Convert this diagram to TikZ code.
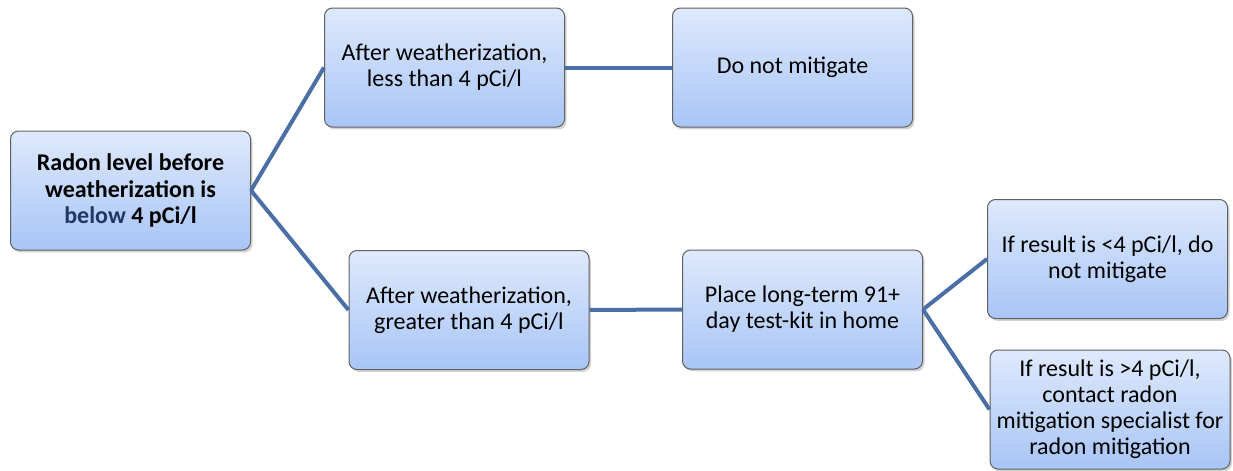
\documentclass[tikz,border=0pt]{standalone}
\usepackage{fontspec}
\setmainfont{Carlito}
\usetikzlibrary{shadows}
\definecolor{boxtop}{RGB}{222,233,252}
\definecolor{boxbot}{RGB}{168,197,246}
\definecolor{linkblue}{RGB}{74,111,165}
\definecolor{navy}{RGB}{31,56,100}

\begin{document}
\begin{tikzpicture}[x=0.5pt,y=-0.5pt,
  box/.style={rectangle, rounded corners=4pt, draw=gray!75!black, line width=0.5pt,
    top color=boxtop, bottom color=boxbot, align=center,
    minimum width=120pt, minimum height=59.5pt, inner sep=2pt,
    font=\fontsize{12pt}{13pt}\selectfont,
    drop shadow={shadow xshift=1pt, shadow yshift=-1.2pt, opacity=0.35, fill=gray}},
  link/.style={draw=linkblue, line width=2pt}]

\useasboundingbox (0,0) rectangle (1233,471);

% Boxes
  \node[box, font=\fontsize{12pt}{13.4pt}\selectfont\bfseries] (root) at (130.5,190.5) {Radon level before\\ weatherization is\\ \textcolor{navy}{below} 4 pCi/l};
  \node[box] (less) at (444.5,67.5) {After weatherization,\\ less than 4 pCi/l};
  \node[box] (nomit) at (792.5,67.5) {Do not mitigate};
  \node[box] (greater) at (469,310) {After weatherization,\\ greater than 4 pCi/l};
  \node[box] (kit) at (802.5,309.5) {Place long-term 91+\\ day test-kit in home};
  \node[box] (below) at (1107.5,259) {If result is <4 pCi/l, do\\ not mitigate};
  \node[box] (above) at (1110,409.5) {If result is >4 pCi/l,\\ contact radon\\ mitigation specialist for\\ radon mitigation};

% Links
  \draw[link] (root.east) -- (less.west);
  \draw[link] (root.east) -- (greater.west);
  \draw[link] (less.east) -- (nomit.west);
  \draw[link] (greater.east) -- (kit.west);
  \draw[link] (kit.east) -- (below.west);
  \draw[link] (kit.east) -- (above.west);
\end{tikzpicture}
\end{document}
